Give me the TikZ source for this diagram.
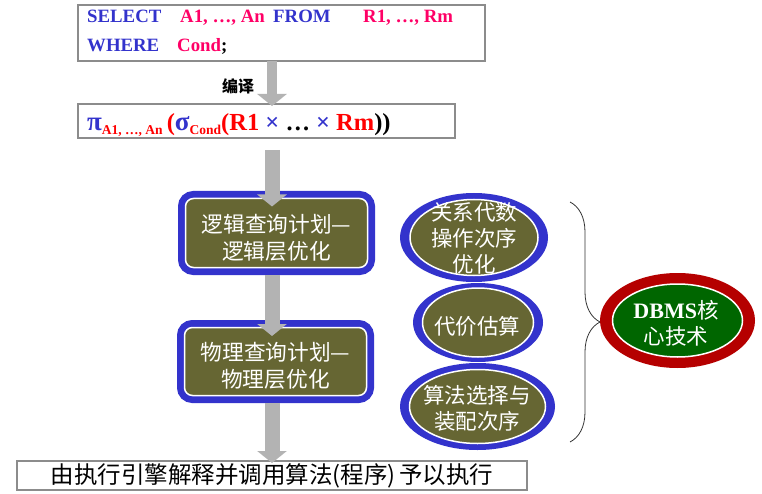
\documentclass[tikz,border=0pt]{standalone}
\usepackage{fontspec}
\setmainfont{Liberation Serif}
\newfontfamily\cjk{Noto Sans CJK SC}
\usetikzlibrary{arrows.meta,shapes.geometric,decorations.pathreplacing}
\definecolor{sqlblue}{HTML}{3333CC}
\definecolor{sqlred}{HTML}{FF0066}
\definecolor{fred}{HTML}{FF0000}
\definecolor{olivebox}{HTML}{666633}
\definecolor{arrowgray}{HTML}{B3B3B3}
\definecolor{ringblue}{HTML}{3333CC}
\definecolor{dred}{HTML}{B50000}
\definecolor{dgreen}{HTML}{006600}
\definecolor{boxgray}{HTML}{8C8C8C}
\begin{document}
\begin{tikzpicture}[x=1pt,y=-1pt,
  textbox/.style={draw=boxgray,line width=1.2pt,inner sep=0pt,outer sep=0pt},
  sqltext/.style={anchor=base west,inner sep=0pt,font=\fontsize{18.8}{20}\selectfont\bfseries},
  bigarrow/.style={draw=arrowgray,line width=15pt,-{Triangle[width=29pt,length=12pt]}},
  thinarrow/.style={draw=arrowgray,line width=10pt,-{Triangle[width=29pt,length=12pt]}},
  planbox/.style={rectangle,rounded corners=8pt,fill=olivebox,draw=white,line width=1.5pt,
    preaction={draw=ringblue,line width=15pt},inner sep=0pt,outer sep=0pt},
  cjktext/.style={inner sep=0pt,align=center,text=white,font=\cjk\fontsize{21.7}{27}\selectfont},
  ringell/.style={ellipse,fill=ringblue,inner sep=0pt},
  innerell/.style={ellipse,fill=olivebox,draw=white,line width=1.5pt,inner sep=0pt},
  elltext/.style={inner sep=0pt,align=center,text=white,font=\cjk\fontsize{21.5}{26}\selectfont}]
\useasboundingbox (0,0) rectangle (762,494);

% SQL box
\node[textbox,minimum width=407,minimum height=56] (sql) at (281.5,33) {};
\node[sqltext,text=sqlblue] (sel) at (87,23) {SELECT};
\node[sqltext,text=sqlred] (attrs) at (180,23) {A1, …, An};
\node[sqltext,text=sqlblue] (from) at (273,23) {FROM};
\node[sqltext,text=sqlred] (rels) at (363,23) {R1, …, Rm};
\node[sqltext,text=sqlblue] (where) at (87,52) {WHERE};
\node[sqltext] (cond) at (177,52) {\textcolor{sqlred}{Cond};};

% formula box
\node[textbox,minimum width=377,minimum height=34] (formula) at (266.5,121) {};
\node[anchor=base west,inner sep=0pt,font=\fontsize{24.5}{26}\selectfont\bfseries] (formtext) at (87,131)
  {\textcolor{sqlblue}{\fontsize{27}{28}\selectfont π}\raisebox{-4pt}{\fontsize{13.5}{15}\selectfont\textcolor{fred}{A1, …, An}}\,\textcolor{fred}{(}\textcolor{sqlblue}{\fontsize{27}{28}\selectfont σ}\raisebox{-4pt}{\fontsize{13.5}{15}\selectfont\textcolor{fred}{Cond}}\textcolor{fred}{(R1} \textcolor{sqlblue}{×} … \textcolor{sqlblue}{×} \textcolor{fred}{Rm}))};

% plan boxes
\node[planbox,minimum width=182,minimum height=69] (plan1) at (276.5,233) {};
\node[cjktext] (plan1txt) at (276.5,238) {逻辑查询计划—\\逻辑层优化};
\node[planbox,minimum width=182,minimum height=68] (plan2) at (275.5,361.5) {};
\node[cjktext] (plan2txt) at (275.5,366) {物理查询计划—\\物理层优化};

% execution box
\node[textbox,minimum width=510,minimum height=29] (exec) at (272,475.5) {};
\node[inner sep=0pt,font=\cjk\fontsize{23.5}{26}\selectfont] (exectxt) at (272,476) {由执行引擎解释并调用算法(程序)\,予以执行};

% arrows
\coordinate (ax) at (272,0);
\coordinate (a2start) at (272,150);
\draw[thinarrow] (sql.south -| ax) -- ([yshift=-2pt]formula.north -| ax);
\node[inner sep=0pt,font=\cjk\bfseries\fontsize{16}{18}\selectfont] (compile) at (238,86) {编译};
\draw[bigarrow] (a2start) -- ([yshift=-8pt]plan1.north -| ax);
\draw[bigarrow,shorten <=7.5pt] (plan1.south -| ax) -- ([yshift=-8.5pt]plan2.north -| ax);
\draw[bigarrow,shorten <=7.5pt] (plan2.south -| ax) -- ([yshift=-2pt]exec.north -| ax);

% ellipses
\node[ringell,minimum width=148,minimum height=89] (alg1ring) at (474,237.5) {};
\node[innerell,minimum width=128,minimum height=76] (alg1) at (474,237.5) {};
\node[elltext] (alg1txt) at (474,238) {关系代数\\操作次序\\优化};
\node[ringell,minimum width=130,minimum height=79] (alg2ring) at (478,322.5) {};
\node[innerell,minimum width=111,minimum height=69] (alg2) at (478,322.5) {};
\node[elltext] (alg2txt) at (477,326) {代价估算};
\node[ringell,minimum width=155,minimum height=87] (alg3ring) at (477.5,406.5) {};
\node[innerell,minimum width=136,minimum height=74] (alg3) at (477.5,406.5) {};
\node[elltext] (alg3txt) at (477,408) {算法选择与\\装配次序};

% brace
\coordinate (bracetop) at (570,202);
\coordinate (bracebot) at (570,442);
\draw[decorate,decoration={brace,amplitude=30pt,aspect=0.5},line width=0.8pt,draw=black!80] (bracetop) -- (bracebot);

% DBMS ellipse
\node[ellipse,fill=dred,inner sep=0pt,minimum width=155,minimum height=95] (coring) at (677.5,320.5) {};
\node[ellipse,fill=dgreen,draw=white,line width=1.5pt,inner sep=0pt,minimum width=130,minimum height=73] (core) at (677.5,320.5) {};
\node[elltext] (coretxt) at (676,323) {{\rmfamily\bfseries\fontsize{22}{26}\selectfont DBMS}核\\心技术};
\end{tikzpicture}
\end{document}
